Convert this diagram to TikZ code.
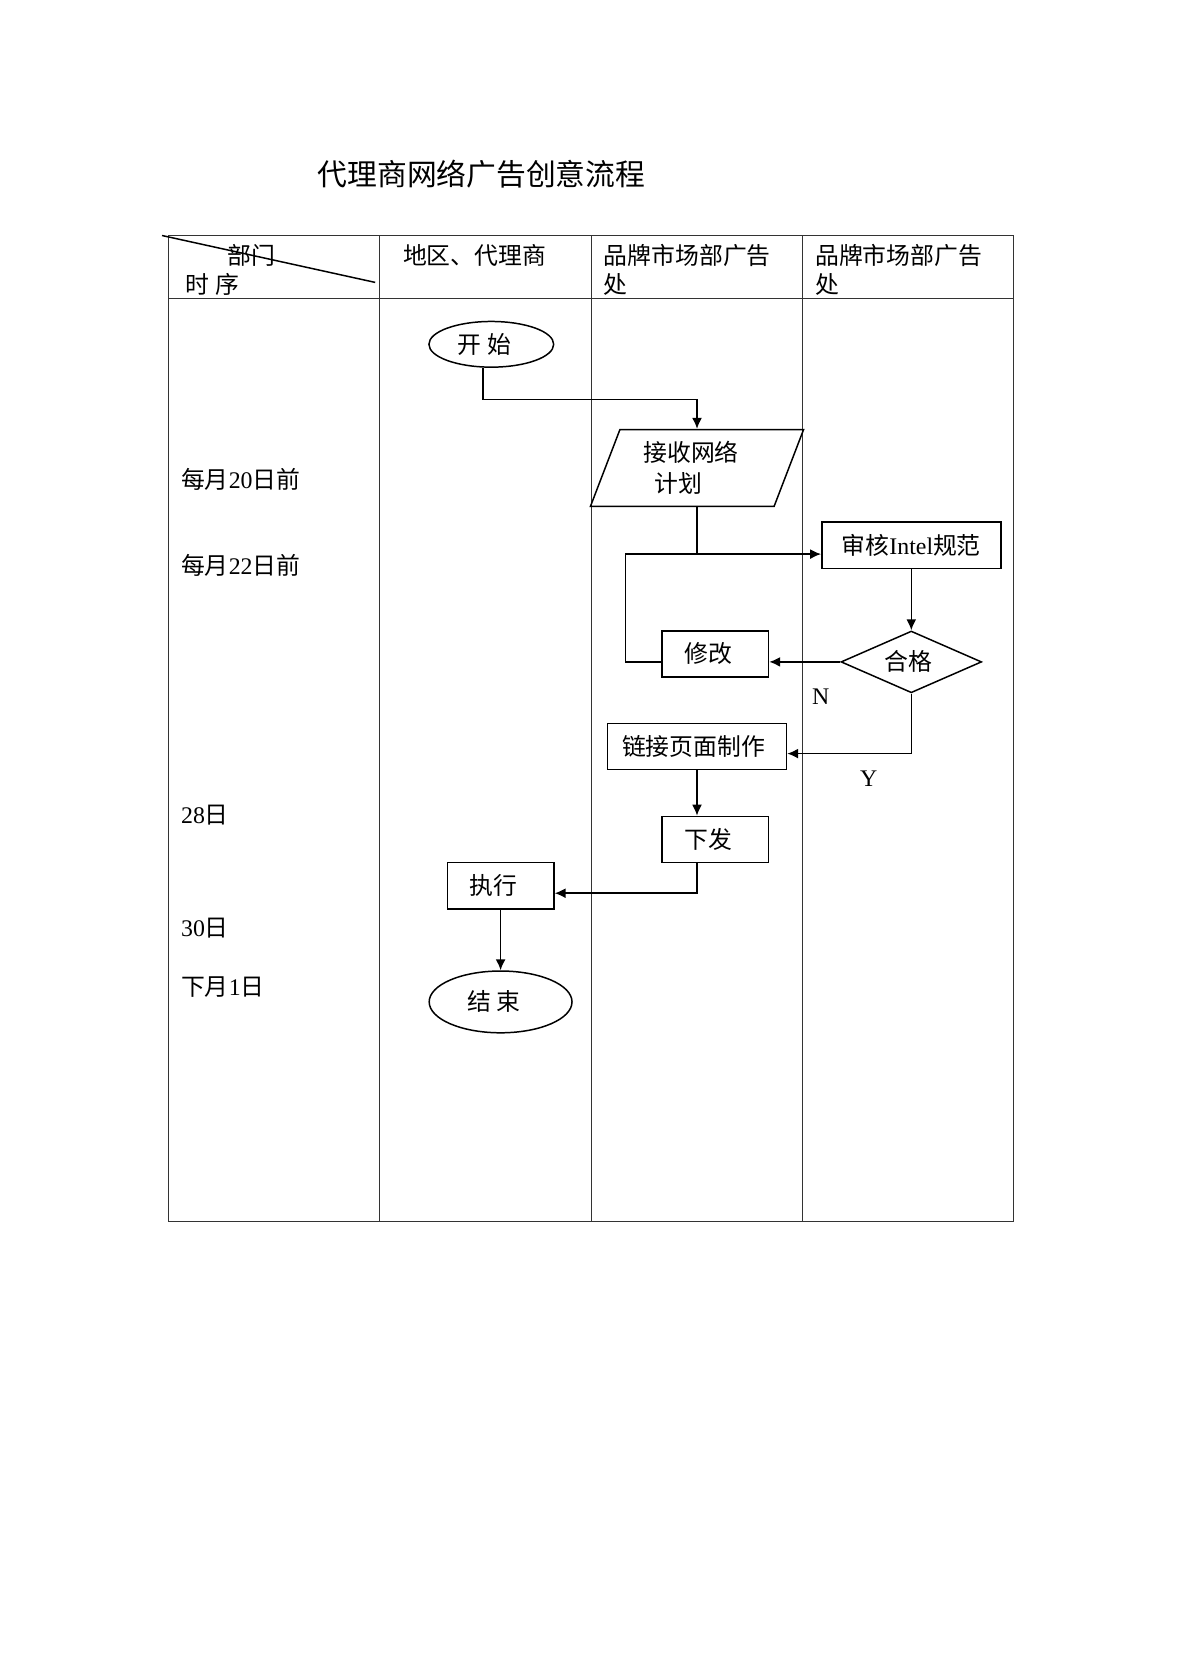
\documentclass[tikz,border=0pt]{standalone}
\usepackage{fontspec}
\setmainfont{Liberation Serif}
\newfontfamily\zh{Noto Sans CJK SC}
\newfontfamily\lat{Liberation Serif}
\usetikzlibrary{arrows.meta}
\usetikzlibrary{shapes.geometric}
\usetikzlibrary{calc}

\tikzset{
  tabelle/.style={line width=0.6pt, color=black!80},
  linie/.style={line width=0.75pt},
  pfeil/.style={linie, -{Latex[length=5.5pt,width=5pt]}},
  links/.style={execute at end node={\hspace*{7pt}}},
  kasten/.style={draw, linie, inner sep=0pt, minimum width=53.7pt, minimum height=23.1pt},
  oval/.style={draw, linie, ellipse, inner sep=0pt},
  raute/.style={draw, linie, diamond, aspect=2.27, inner sep=0pt},
  schraeg/.style={draw, linie, trapezium, trapezium left angle=61, trapezium right angle=119,
    trapezium stretches body, inner sep=0pt, align=left},
  kopf/.style={anchor=west, inner sep=0pt, align=left, font=\zh\fontsize{12}{14.6}\selectfont},
  zeit/.style={anchor=west, inner sep=0pt}
}

\begin{document}
\begin{tikzpicture}[x=0.50338pt, y=-0.50338pt, font=\zh\fontsize{12}{15.6}\selectfont]
  \useasboundingbox (0,0) rectangle (1182,1671);

  % Titel
  \node (titel) at (481.5,174) {\fontsize{15}{18}\selectfont 代理商网络广告创意流程};

  % Tabelle
  \draw[tabelle] (168.4,235.5) rectangle (1013.6,1221.4);
  \draw[tabelle] (168.4,298.4) -- (1013.6,298.4);
  \foreach \x in {379.4,591.5,802.5}
    \draw[tabelle] (\x,235.5) -- (\x,1221.4);
  \draw[linie] (162,235.5) -- (375.2,282.4);

  % Kopfzeile
  \node[kopf] (bumen) at (227.5,255) {部门};
  \node[kopf] (shixu) at (185.6,284) {时 序};
  \node[kopf] (dailishang) at (402.6,255) {地区、代理商};
  \node[kopf] (guanggao1) at (603.5,269.5) {品牌市场部广告\\处};
  \node[kopf] (guanggao2) at (814.8,269.5) {品牌市场部广告\\处};

  % Zeitspalte
  \node[zeit] (t20) at (180.7,479.6) {每月{\lat 20}日前};
  \node[zeit] (t22) at (180.7,564.9) {每月{\lat 22}日前};
  \node[zeit] (t28) at (180.7,815.3) {{\lat 28}日};
  \node[zeit] (t30) at (180.7,928.3) {{\lat 30}日};
  \node[zeit] (t01) at (180.7,987) {下月{\lat 1}日};

  % Ablauf
  \node[oval, links, minimum width=62.8pt, minimum height=23pt] (start) at (491.3,344.3) {开 始};
  \node[schraeg, minimum width=107.3pt, minimum height=38.7pt] (plan) at (697,468) {接收网络\hspace*{6pt}\\\hspace*{5.5pt}计划};
  \node[kasten, minimum width=90.1pt, minimum height=23.2pt] (audit) at (911.3,545.2) {审核{\lat Intel}规范};
  \node[raute, minimum width=70.8pt, minimum height=31.1pt] (check) at (911.3,661.9) {合格\hspace*{3pt}};
  \node[kasten, links] (fix) at (715.2,653.9) {修改};
  \node[kasten, minimum width=90.1pt] (link) at (697,746.6) {链接页面制作\hspace*{3.5pt}};
  \node[kasten, links] (send) at (715.2,839.3) {下发};
  \node[kasten, links, minimum height=23.6pt] (exec) at (500.6,885.7) {执行};
  \node[oval, links, minimum width=71.9pt, minimum height=31.1pt] (ende) at (500.6,1001.9) {结 束};

  \node[font=\lat\fontsize{12}{14}\selectfont] (nein) at (820.7,697) {N};
  \node[font=\lat\fontsize{12}{14}\selectfont] (ja) at (868.6,779) {Y};

  % Verbindungen
  \draw[pfeil] (start.south) ++(-8.5,0) -- ++(0,31.6) -| (plan.north);
  \coordinate (knoten) at ($(plan.south)+(0,46.9)$);
  \draw[pfeil] (plan.south) -- (knoten) -- (knoten -| audit.west);
  \draw[linie] (fix.west |- check.west) -| ($(knoten)+(-71.4,0)$) -- (knoten);
  \draw[pfeil] (audit.south) -- (check.north);
  \draw[pfeil] (check.west) -- (check.west -| fix.east);
  \draw[pfeil] (check.south) |- ($(link.east)+(0,7)$);
  \draw[pfeil] (link.south) -- (link.south |- send.north);
  \draw[pfeil] (link.south |- send.south) |- ($(exec.east)+(0,7.5)$);
  \draw[pfeil] (exec.south) -- (ende.north);
\end{tikzpicture}
\end{document}
